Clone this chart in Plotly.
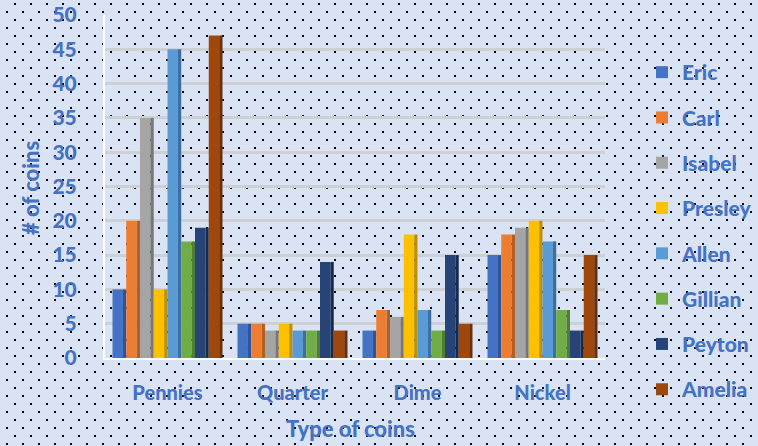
import base64
import plotly.graph_objects as go

categories = ["Pennies", "Quarter", "Dime", "Nickel"]
names = ["Eric", "Carl", "Isabel", "Presley", "Allen", "Gillian", "Peyton", "Amelia"]
eric = [10, 5, 4, 15]
carl = [20, 5, 7, 18]
isabel = [35, 4, 6, 19]
presley = [10, 5, 18, 20]
allen = [45, 4, 7, 17]
gillian = [17, 4, 4, 7]
peyton = [19, 14, 15, 4]
amelia = [47, 4, 5, 15]
series = [eric, carl, isabel, presley, allen, gillian, peyton, amelia]
colors = ["#4472C4", "#ED7D31", "#A5A5A5", "#FFC000", "#5B9BD5", "#70AD47", "#264478", "#9E480E"]
side_colors = ["#2F5597", "#B45F21", "#777777", "#BF9000", "#3D70A0", "#4F7E32", "#172B4D", "#6A300A"]
y_ticks = list(range(0, 51, 5))

W, H = 758, 446
BG = "#DAE3F3"
TXT = "#4472C4"
FONT = "Lato"
WT = 900

# dotted background pattern (Excel 5% pattern look)
svg = (
    f'<svg xmlns="http://www.w3.org/2000/svg" width="{W}" height="{H}" viewBox="0 0 {W} {H}" shape-rendering="crispEdges">'
    '<defs><pattern id="p" x="0" y="0" width="16" height="16" patternUnits="userSpaceOnUse">'
    '<rect x="14" y="3" width="2" height="2" fill="#000"/>'
    '<rect x="6" y="11" width="2" height="2" fill="#000"/>'
    '</pattern></defs>'
    f'<rect width="{W}" height="{H}" fill="{BG}"/>'
    f'<rect width="{W}" height="{H}" fill="url(#p)"/>'
    '</svg>'
)
src = "data:image/svg+xml;base64," + base64.b64encode(svg.encode()).decode()

# bar geometry (category units): group of 8 slots, each slot = front face + darker side face
GROUP = 0.88
SLOT = GROUP / len(names)
FRONT = SLOT * 0.76
SIDE = SLOT - FRONT

fig = go.Figure()
for i, (n, vals) in enumerate(zip(names, series)):
    start = -GROUP / 2 + i * SLOT
    fig.add_trace(go.Bar(
        x=categories, y=vals, name=n,
        offset=start, width=FRONT,
        marker=dict(color=colors[i], line=dict(width=0)),
        legendgroup=n,
    ))
    fig.add_trace(go.Bar(
        x=categories, y=vals, name=n,
        offset=start + FRONT, width=SIDE,
        marker=dict(color=side_colors[i], line=dict(width=0)),
        legendgroup=n, showlegend=False, hoverinfo="skip",
    ))

x0, x1 = 105 / W, 605 / W
y0, y1 = (H - 358) / H, (H - 15) / H

fig.update_layout(
    width=W, height=H,
    margin=dict(l=0, r=0, t=0, b=0, autoexpand=False),
    paper_bgcolor=BG,
    plot_bgcolor="rgba(0,0,0,0)",
    barmode="overlay",
    font=dict(family=FONT, color=TXT, size=20, weight=WT),
    images=[dict(source=src, xref="paper", yref="paper", x=0, y=1, sizex=1, sizey=1,
                 sizing="stretch", layer="below", xanchor="left", yanchor="top")],
    xaxis=dict(domain=[x0, x1], showgrid=False, showline=True, linecolor="#FFFFFF", linewidth=2,
               ticks="outside", ticklen=16, tickcolor="rgba(0,0,0,0)",
               tickfont=dict(family=FONT, size=20, color=TXT, weight=WT)),
    yaxis=dict(domain=[y0, y1], range=[0, 50], tickvals=y_ticks, showgrid=True,
               gridcolor="#CDD0D4", gridwidth=2.5, zeroline=False,
               showline=True, linecolor="#FFFFFF", linewidth=2,
               ticks="outside", ticklen=22, tickcolor="rgba(0,0,0,0)",
               tickfont=dict(family=FONT, size=21, color=TXT, weight=WT)),
    legend=dict(x=642 / W, y=(H - 52) / H, xanchor="left", yanchor="top",
                bgcolor="rgba(0,0,0,0)", tracegroupgap=15,
                font=dict(family=FONT, size=21, color=TXT, weight=WT)),
    showlegend=True,
    annotations=[
        dict(text="Type of coins", xref="paper", yref="paper", x=350 / W, y=(H - 428) / H,
             showarrow=False, xanchor="center", yanchor="middle",
             font=dict(family=FONT, size=22, color=TXT, weight=WT)),
        dict(text="# of coins", xref="paper", yref="paper", x=30 / W, y=(H - 188) / H,
             showarrow=False, xanchor="center", yanchor="middle", textangle=-90,
             font=dict(family=FONT, size=22, color=TXT, weight=WT)),
    ],
)

fig.write_html(
    "out.html",
    config={"displayModeBar": False},
    post_script="document.body.style.margin='0';document.body.style.overflow='hidden';",
)
